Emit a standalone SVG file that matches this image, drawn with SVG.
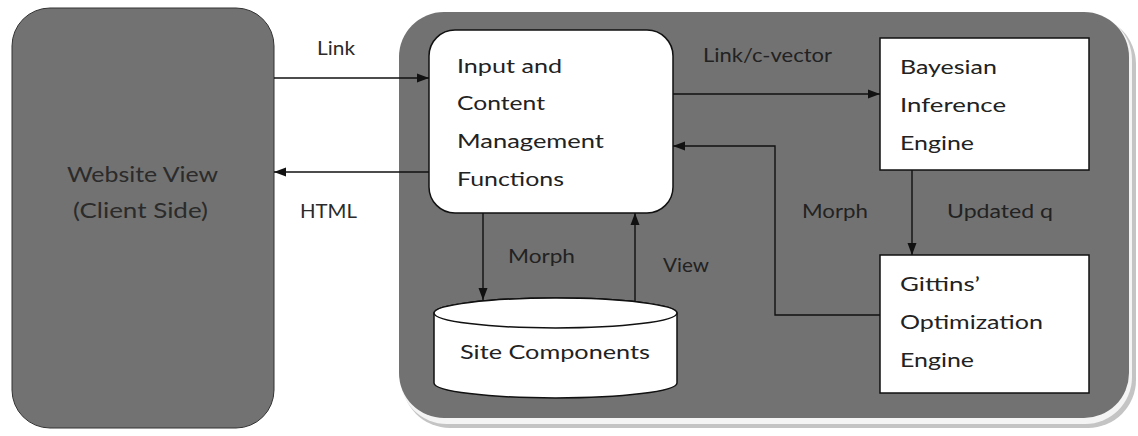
<svg xmlns="http://www.w3.org/2000/svg" width="1138" height="436" viewBox="0 0 1138 436">
  <defs>
    <marker id="arrow" viewBox="0 0 12 10" refX="12" refY="5" markerWidth="12" markerHeight="10" markerUnits="userSpaceOnUse" orient="auto">
      <path d="M0,0.5 L12,5 L0,9.5 Z" fill="#111"/>
    </marker>
    <style>
      text { font-family: "Lato", "Open Sans", "Liberation Sans", sans-serif; font-size: 18.5px; fill: #222; }
      .big { font-size: 18.5px; }
      .side { font-size: 22px; fill: #2b2b2b; }
      .box { fill: #ffffff; stroke: #111; stroke-width: 1.5; }
      .panel { fill: #727272; }
      .edge { fill: none; stroke: #111; stroke-width: 1.4; }
      .dim { fill: #2b2b2b; }
    </style>
  </defs>
  <rect width="1138" height="436" fill="#ffffff"/>

  <!-- client side panel -->
  <g id="client">
    <rect class="panel" x="12" y="8" width="262" height="420" rx="38" ry="38" stroke="#333" stroke-width="1"/>
    <text class="side" x="67" y="182" textLength="151" lengthAdjust="spacingAndGlyphs">Website View</text>
    <text class="side" x="73" y="218" textLength="135" lengthAdjust="spacingAndGlyphs">(Client Side)</text>
  </g>

  <!-- server side container with bevelled edge -->
  <g id="server">
    <rect x="402" y="16" width="734" height="412" rx="48" ry="48" fill="#c4c4c4"/>
    <rect x="400" y="13" width="732" height="411" rx="47" ry="47" fill="#f4f4f4"/>
    <rect class="panel" x="399" y="12" width="730" height="406" rx="45" ry="45"/>
  </g>

  <g id="input">
    <rect class="box" x="429" y="30" width="244" height="183" rx="26" ry="26"/>
    <text class="big" x="457" y="73" textLength="105" lengthAdjust="spacingAndGlyphs">Input and</text>
    <text class="big" x="457" y="110" textLength="88" lengthAdjust="spacingAndGlyphs">Content</text>
    <text class="big" x="457" y="148" textLength="147" lengthAdjust="spacingAndGlyphs">Management</text>
    <text class="big" x="457" y="186" textLength="107" lengthAdjust="spacingAndGlyphs">Functions</text>
  </g>

  <g id="bayes">
    <rect class="box" x="880" y="38" width="209" height="132"/>
    <text class="big" x="900" y="74" textLength="97" lengthAdjust="spacingAndGlyphs">Bayesian</text>
    <text class="big" x="900" y="112" textLength="106" lengthAdjust="spacingAndGlyphs">Inference</text>
    <text class="big" x="900" y="150" textLength="74" lengthAdjust="spacingAndGlyphs">Engine</text>
  </g>

  <g id="gittins">
    <rect class="box" x="880" y="255" width="209" height="138"/>
    <text class="big" x="900" y="291" textLength="80" lengthAdjust="spacingAndGlyphs">Gittins’</text>
    <text class="big" x="900" y="329" textLength="143" lengthAdjust="spacingAndGlyphs">Optimization</text>
    <text class="big" x="900" y="367" textLength="74" lengthAdjust="spacingAndGlyphs">Engine</text>
  </g>

  <g id="components">
    <path class="box" d="M434,313 L434,383 A121.5,15 0 0 0 677,383 L677,313 A121.5,15 0 0 0 434,313 Z"/>
    <ellipse class="box" cx="555.5" cy="313" rx="121.5" ry="15"/>
    <text class="big" x="460" y="359" textLength="190" lengthAdjust="spacingAndGlyphs">Site Components</text>
  </g>

  <g id="connectors">
    <line class="edge" x1="274" y1="78" x2="429" y2="78" marker-end="url(#arrow)"/>
    <line class="edge" x1="429" y1="172" x2="274" y2="172" marker-end="url(#arrow)"/>
    <line class="edge" x1="673" y1="94" x2="880" y2="94" marker-end="url(#arrow)"/>
    <polyline class="edge" points="880,315 775,315 775,146 673,146" marker-end="url(#arrow)"/>
    <line class="edge" x1="912" y1="170" x2="912" y2="255" marker-end="url(#arrow)"/>
    <line class="edge" x1="483" y1="213" x2="483" y2="300" marker-end="url(#arrow)"/>
    <line class="edge" x1="635" y1="302" x2="635" y2="213" marker-end="url(#arrow)"/>

    <text class="dim" x="317" y="55" textLength="38" lengthAdjust="spacingAndGlyphs">Link</text>
    <text class="dim" x="300" y="218" textLength="57" lengthAdjust="spacingAndGlyphs">HTML</text>
    <text x="703" y="62" textLength="129" lengthAdjust="spacingAndGlyphs">Link/c-vector</text>
    <text x="802" y="218" textLength="66" lengthAdjust="spacingAndGlyphs">Morph</text>
    <text x="947" y="218" textLength="106" lengthAdjust="spacingAndGlyphs">Updated q</text>
    <text x="508" y="263" textLength="67" lengthAdjust="spacingAndGlyphs">Morph</text>
    <text x="663" y="272" textLength="46" lengthAdjust="spacingAndGlyphs">View</text>
  </g>
</svg>
